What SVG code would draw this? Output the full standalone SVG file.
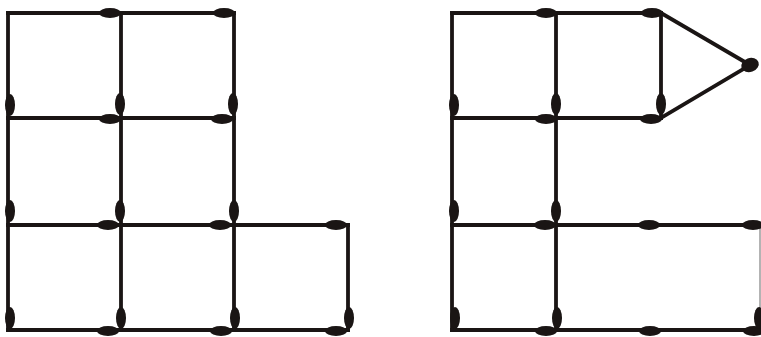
<svg xmlns="http://www.w3.org/2000/svg" width="761" height="337" viewBox="0 0 761 337">
<style>
.s{stroke:#1a1514;stroke-width:3.8;stroke-linecap:square;fill:none}
.h{fill:#1a1514}
</style>
<defs>
<ellipse id="hh" class="h" cx="0" cy="0" rx="11" ry="5"/>
<ellipse id="hv" class="h" cx="0" cy="0" rx="5" ry="11"/>
</defs>
<rect width="761" height="337" fill="#fff"/>
<g id="figure-left">
<g id="left-sticks" class="s">
<path d="M8 13H121M121 13H234M8 118H121M121 118H234M8 225H121M121 225H234M234 225H348M8 330H121M121 330H234M234 330H348"/>
<path d="M8 13V118M121 13V118M234 13V118M8 118V225M121 118V225M234 118V225M8 225V330M121 225V330M234 225V330M348 225V330"/>
</g>
<g id="left-heads">
<use href="#hh" x="110" y="13"/><use href="#hh" x="224" y="13"/>
<use href="#hh" x="110" y="119"/><use href="#hh" x="222" y="119"/>
<use href="#hh" x="108" y="225"/><use href="#hh" x="220" y="225"/><use href="#hh" x="336" y="225"/>
<use href="#hh" x="108" y="331"/><use href="#hh" x="221" y="331"/><use href="#hh" x="336" y="331"/>
<use href="#hv" x="10" y="105"/><use href="#hv" x="120" y="104"/><use href="#hv" x="233" y="104"/>
<use href="#hv" x="10" y="211"/><use href="#hv" x="120" y="211"/><use href="#hv" x="234" y="211"/>
<use href="#hv" x="10" y="318"/><use href="#hv" x="121" y="318"/><use href="#hv" x="235" y="318"/><use href="#hv" x="349" y="318"/>
</g>
</g>
<g id="figure-right">
<g id="right-sticks" class="s">
<path d="M452 13H556M556 13H661M452 118H556M556 118H661M452 225H556M556 225H661M661 225H762M452 330H556M556 330H661M661 330H762"/>
<path d="M452 13V118M556 13V118M661 13V118M452 118V225M556 118V225M452 225V330M556 225V330"/>
<path d="M661 13L750 65M661 118L750 65"/>
</g>
<path d="M760 225V330" stroke="#9a9a9a" stroke-width="1.5"/>
<g id="right-heads">
<use href="#hh" x="546" y="13"/><use href="#hh" x="652" y="13"/>
<use href="#hh" x="546" y="119"/><use href="#hh" x="651" y="119"/>
<use href="#hh" x="545" y="225"/><use href="#hh" x="649" y="225"/><use href="#hh" x="753" y="225"/>
<use href="#hh" x="546" y="331"/><use href="#hh" x="650" y="331"/><use href="#hh" x="754" y="331"/>
<use href="#hv" x="454" y="105"/><use href="#hv" x="556" y="104"/><use href="#hv" x="661" y="104"/>
<use href="#hv" x="454" y="211"/><use href="#hv" x="556" y="211"/>
<use href="#hv" x="455" y="318"/><use href="#hv" x="557" y="318"/><use href="#hv" x="759" y="318"/>
<ellipse class="h" cx="750" cy="65" rx="9" ry="7" transform="rotate(-20 750 65)"/>
</g>
</g>
</svg>
